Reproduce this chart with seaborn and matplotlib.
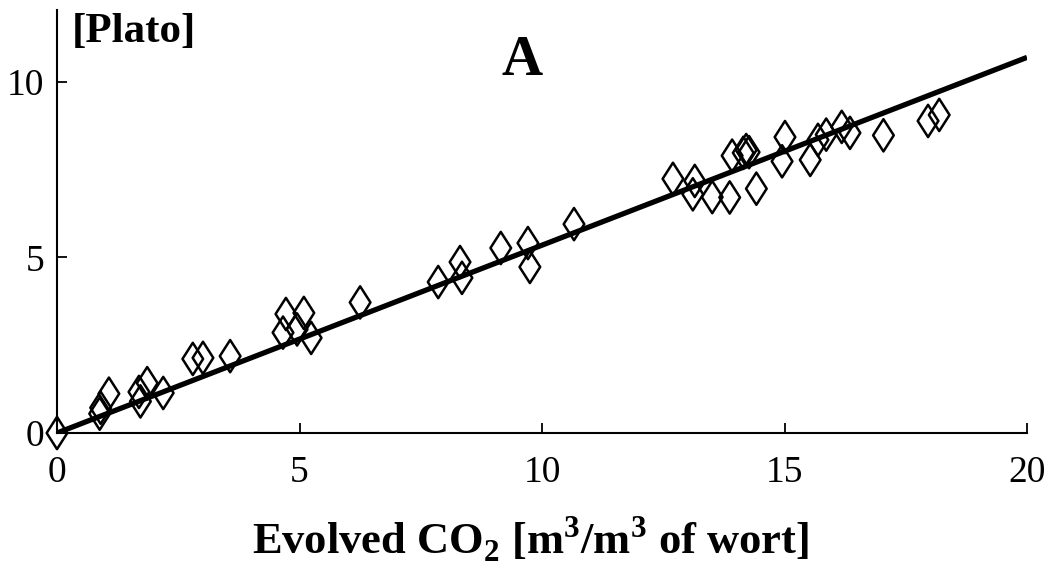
import numpy as np
import matplotlib
matplotlib.use("Agg")
import matplotlib.pyplot as plt
from matplotlib.path import Path
import seaborn as sns

# -------------------------
# Data
# -------------------------
co2_evolved = [0.0, 0.88, 0.90, 1.07, 1.69, 1.72, 1.86, 2.19, 2.80, 3.01,
               3.57, 4.66, 4.72, 4.95, 5.09, 5.24, 6.25, 7.86, 8.31, 8.35,
               9.15, 9.71, 9.75, 10.66, 12.70, 13.15, 13.11, 13.51, 13.87, 13.92,
               14.15, 14.21, 14.27, 14.42, 15.01, 14.95, 15.53, 15.69, 15.86, 16.18,
               16.35, 17.04, 17.96, 18.19]
plato_drop = [0.0, 0.55, 0.72, 1.12, 1.17, 0.90, 1.42, 1.14, 2.11, 2.14,
              2.19, 2.86, 3.39, 2.95, 3.42, 2.71, 3.72, 4.30, 4.87, 4.42,
              5.27, 5.41, 4.73, 5.95, 7.24, 7.18, 6.80, 6.72, 6.71, 7.90,
              7.98, 8.06, 8.00, 6.96, 8.43, 7.74, 7.78, 8.35, 8.50, 8.72,
              8.55, 8.48, 8.89, 9.06]
fit_slope = 0.535
x_ticks = [0, 5, 10, 15, 20]
y_ticks = [0, 5, 10]

# -------------------------
# Style
# -------------------------
sns.set_theme(style="white")
plt.rcParams['font.family'] = ['Liberation Serif', 'DejaVu Serif']
plt.rcParams['mathtext.fontset'] = 'custom'
plt.rcParams['mathtext.rm'] = 'Liberation Serif'
plt.rcParams['mathtext.bf'] = 'Liberation Serif:bold'
for key in ['text.color', 'axes.labelcolor', 'xtick.color', 'ytick.color']:
    plt.rcParams[key] = 'black'

# thin open diamond marker
diamond = Path([(0, 1), (0.64, 0), (0, -1), (-0.64, 0), (0, 1)],
               [Path.MOVETO, Path.LINETO, Path.LINETO, Path.LINETO, Path.CLOSEPOLY])

fig = plt.figure(figsize=(10.51, 5.65), dpi=100)
ax = fig.add_axes([57 / 1051, 132 / 565, 970 / 1051, 423 / 565])

sns.scatterplot(x=co2_evolved, y=plato_drop, ax=ax, marker=diamond, s=540,
                facecolor='none', edgecolor='black', linewidth=1.8,
                clip_on=False, zorder=3)

x_line = np.array([0, 20])
ax.plot(x_line, fit_slope * x_line, color='black', linewidth=3.8, zorder=4,
        solid_capstyle='butt')

ax.set_xlim(0, 20)
ax.set_ylim(0, 12.05)
ax.set_xticks(x_ticks)
ax.set_yticks(y_ticks)
ax.tick_params(direction='in', length=7, width=1.3, labelsize=27, colors='black',
               bottom=True, left=True)
ax.tick_params(axis='x', pad=16)
ax.tick_params(axis='y', pad=9)

for side in ['top', 'right']:
    ax.spines[side].set_visible(False)
for side in ['left', 'bottom']:
    ax.spines[side].set_linewidth(1.5)
    ax.spines[side].set_color('black')

ax.set_xlabel('Evolved CO$_\\mathbf{2}$ [m$^\\mathbf{3}$/m$^\\mathbf{3}$ of wort]',
              fontsize=32, fontweight='bold', labelpad=18)
ax.xaxis.label.set_x((530 - 57) / 970)
ax.text(0.31, 11.42, '[Plato]', fontsize=31, fontweight='bold',
        ha='left', va='center')
ax.text(9.59, 10.6, 'A', fontsize=41, fontweight='bold', ha='center', va='center')

fig.savefig('out.png', dpi=100)
plt.close()
